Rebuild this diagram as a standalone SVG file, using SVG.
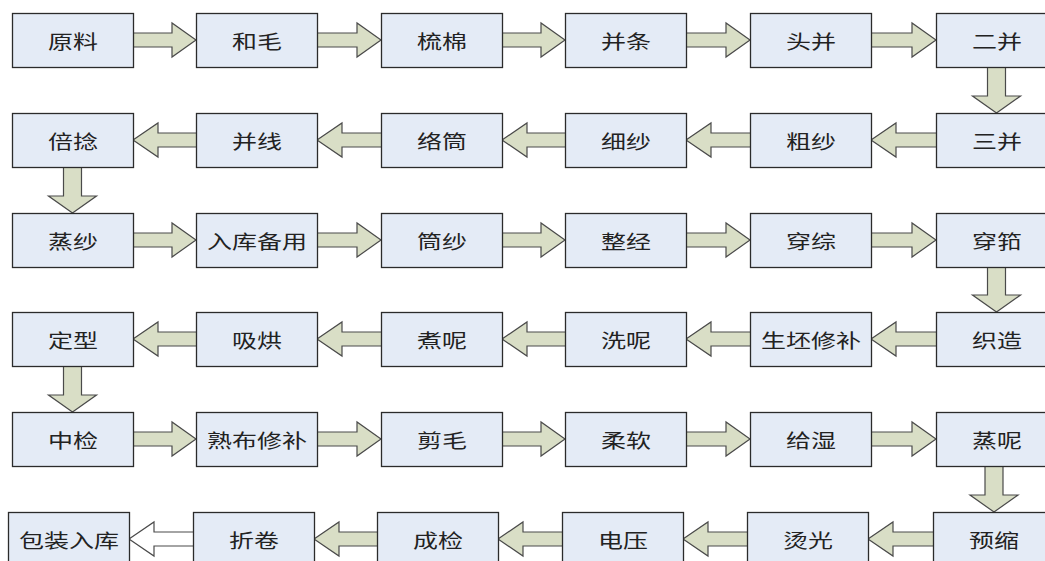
<svg xmlns="http://www.w3.org/2000/svg" xmlns:xlink="http://www.w3.org/1999/xlink" width="1045" height="561" viewBox="0 0 1045 561">
<style>
.box{fill:#e4ebf6;stroke:#2b2b2b;stroke-width:1.3}
.lbl{font-family:"Noto Sans CJK SC","Noto Sans CJK JP",sans-serif;font-size:19px;fill:#222;text-anchor:middle;dominant-baseline:central}
.arr{fill:#d9dec6;stroke:#4a4a4a;stroke-width:1.2;stroke-linejoin:miter}
.arr-w{fill:#ffffff;stroke:#4a4a4a;stroke-width:1.2}
</style>
<defs>
<path id="ar" d="M-68,-7 H-24 V-17 L0,0 L-24,17 V7 H-68 Z"/>
<path id="al" d="M0,0 L25,-17 V-7 H68 V7 H25 V17 Z"/>
<path id="ad" d="M-9,-52 V-17 H-24 L0,0 L24,-17 H9 V-52 Z"/>
</defs>
<rect width="1045" height="561" fill="#ffffff"/>
<g id="connectors">
<use href="#ar" class="arr" transform="translate(196,40)"/>
<use href="#ar" class="arr" transform="translate(381,40)"/>
<use href="#ar" class="arr" transform="translate(565,40)"/>
<use href="#ar" class="arr" transform="translate(750,40)"/>
<use href="#ar" class="arr" transform="translate(936,40)"/>
<use href="#ad" class="arr" transform="translate(996.5,113)"/>
<use href="#al" class="arr" transform="translate(133,140)"/>
<use href="#al" class="arr" transform="translate(317,140)"/>
<use href="#al" class="arr" transform="translate(502,140)"/>
<use href="#al" class="arr" transform="translate(686,140)"/>
<use href="#al" class="arr" transform="translate(871,140)"/>
<use href="#ad" class="arr" transform="translate(72.5,213)"/>
<use href="#ar" class="arr" transform="translate(196,240)"/>
<use href="#ar" class="arr" transform="translate(381,240)"/>
<use href="#ar" class="arr" transform="translate(565,240)"/>
<use href="#ar" class="arr" transform="translate(750,240)"/>
<use href="#ar" class="arr" transform="translate(936,240)"/>
<use href="#ad" class="arr" transform="translate(996.5,312)"/>
<use href="#al" class="arr" transform="translate(133,339)"/>
<use href="#al" class="arr" transform="translate(317,339)"/>
<use href="#al" class="arr" transform="translate(502,339)"/>
<use href="#al" class="arr" transform="translate(686,339)"/>
<use href="#al" class="arr" transform="translate(871,339)"/>
<use href="#ad" class="arr" transform="translate(72.5,412)"/>
<use href="#ar" class="arr" transform="translate(196,439)"/>
<use href="#ar" class="arr" transform="translate(381,439)"/>
<use href="#ar" class="arr" transform="translate(565,439)"/>
<use href="#ar" class="arr" transform="translate(750,439)"/>
<use href="#ar" class="arr" transform="translate(936,439)"/>
<use href="#ad" class="arr" transform="translate(994,512)"/>
<use href="#al" class="arr-w" transform="translate(129,539)"/>
<use href="#al" class="arr" transform="translate(314,539)"/>
<use href="#al" class="arr" transform="translate(498,539)"/>
<use href="#al" class="arr" transform="translate(683,539)"/>
<use href="#al" class="arr" transform="translate(868,539)"/>
</g>
<g id="n-yuanliao"><rect class="box" x="12.5" y="13.5" width="121" height="54"/><text class="lbl" x="73" y="40" textLength="50" lengthAdjust="spacingAndGlyphs">原料</text></g>
<g id="n-hemao"><rect class="box" x="196.5" y="13.5" width="121" height="54"/><text class="lbl" x="257" y="40" textLength="50" lengthAdjust="spacingAndGlyphs">和毛</text></g>
<g id="n-shumian"><rect class="box" x="381.5" y="13.5" width="121" height="54"/><text class="lbl" x="442" y="40" textLength="50" lengthAdjust="spacingAndGlyphs">梳棉</text></g>
<g id="n-bingtiao"><rect class="box" x="565.5" y="13.5" width="121" height="54"/><text class="lbl" x="626" y="40" textLength="50" lengthAdjust="spacingAndGlyphs">并条</text></g>
<g id="n-toubing"><rect class="box" x="750.5" y="13.5" width="121" height="54"/><text class="lbl" x="811" y="40" textLength="50" lengthAdjust="spacingAndGlyphs">头并</text></g>
<g id="n-erbing"><rect class="box" x="936.5" y="13.5" width="121" height="54"/><text class="lbl" x="997" y="40" textLength="50" lengthAdjust="spacingAndGlyphs">二并</text></g>
<g id="n-beinian"><rect class="box" x="12.5" y="113.5" width="121" height="54"/><text class="lbl" x="73" y="140" textLength="50" lengthAdjust="spacingAndGlyphs">倍捻</text></g>
<g id="n-bingxian"><rect class="box" x="196.5" y="113.5" width="121" height="54"/><text class="lbl" x="257" y="140" textLength="50" lengthAdjust="spacingAndGlyphs">并线</text></g>
<g id="n-luotong"><rect class="box" x="381.5" y="113.5" width="121" height="54"/><text class="lbl" x="442" y="140" textLength="50" lengthAdjust="spacingAndGlyphs">络筒</text></g>
<g id="n-xisha"><rect class="box" x="565.5" y="113.5" width="121" height="54"/><text class="lbl" x="626" y="140" textLength="50" lengthAdjust="spacingAndGlyphs">细纱</text></g>
<g id="n-cusha"><rect class="box" x="750.5" y="113.5" width="121" height="54"/><text class="lbl" x="811" y="140" textLength="50" lengthAdjust="spacingAndGlyphs">粗纱</text></g>
<g id="n-sanbing"><rect class="box" x="936.5" y="113.5" width="121" height="54"/><text class="lbl" x="997" y="140" textLength="50" lengthAdjust="spacingAndGlyphs">三并</text></g>
<g id="n-zhengsha"><rect class="box" x="12.5" y="213.5" width="121" height="54"/><text class="lbl" x="73" y="240" textLength="50" lengthAdjust="spacingAndGlyphs">蒸纱</text></g>
<g id="n-rukubeiyong"><rect class="box" x="196.5" y="213.5" width="121" height="54"/><text class="lbl" x="257" y="240" textLength="100" lengthAdjust="spacingAndGlyphs">入库备用</text></g>
<g id="n-tongsha"><rect class="box" x="381.5" y="213.5" width="121" height="54"/><text class="lbl" x="442" y="240" textLength="50" lengthAdjust="spacingAndGlyphs">筒纱</text></g>
<g id="n-zhengjing"><rect class="box" x="565.5" y="213.5" width="121" height="54"/><text class="lbl" x="626" y="240" textLength="50" lengthAdjust="spacingAndGlyphs">整经</text></g>
<g id="n-chuanzong"><rect class="box" x="750.5" y="213.5" width="121" height="54"/><text class="lbl" x="811" y="240" textLength="50" lengthAdjust="spacingAndGlyphs">穿综</text></g>
<g id="n-chuankou"><rect class="box" x="936.5" y="213.5" width="121" height="54"/><text class="lbl" x="997" y="240" textLength="50" lengthAdjust="spacingAndGlyphs">穿筘</text></g>
<g id="n-dingxing"><rect class="box" x="12.5" y="312.5" width="121" height="54"/><text class="lbl" x="73" y="339" textLength="50" lengthAdjust="spacingAndGlyphs">定型</text></g>
<g id="n-xihong"><rect class="box" x="196.5" y="312.5" width="121" height="54"/><text class="lbl" x="257" y="339" textLength="50" lengthAdjust="spacingAndGlyphs">吸烘</text></g>
<g id="n-zhuni"><rect class="box" x="381.5" y="312.5" width="121" height="54"/><text class="lbl" x="442" y="339" textLength="50" lengthAdjust="spacingAndGlyphs">煮呢</text></g>
<g id="n-xini"><rect class="box" x="565.5" y="312.5" width="121" height="54"/><text class="lbl" x="626" y="339" textLength="50" lengthAdjust="spacingAndGlyphs">洗呢</text></g>
<g id="n-shengpixiubu"><rect class="box" x="750.5" y="312.5" width="121" height="54"/><text class="lbl" x="811" y="339" textLength="100" lengthAdjust="spacingAndGlyphs">生坯修补</text></g>
<g id="n-zhizao"><rect class="box" x="936.5" y="312.5" width="121" height="54"/><text class="lbl" x="997" y="339" textLength="50" lengthAdjust="spacingAndGlyphs">织造</text></g>
<g id="n-zhongjian"><rect class="box" x="12.5" y="412.5" width="121" height="54"/><text class="lbl" x="73" y="439" textLength="50" lengthAdjust="spacingAndGlyphs">中检</text></g>
<g id="n-shubuxiubu"><rect class="box" x="196.5" y="412.5" width="121" height="54"/><text class="lbl" x="257" y="439" textLength="100" lengthAdjust="spacingAndGlyphs">熟布修补</text></g>
<g id="n-jianmao"><rect class="box" x="381.5" y="412.5" width="121" height="54"/><text class="lbl" x="442" y="439" textLength="50" lengthAdjust="spacingAndGlyphs">剪毛</text></g>
<g id="n-rouruan"><rect class="box" x="565.5" y="412.5" width="121" height="54"/><text class="lbl" x="626" y="439" textLength="50" lengthAdjust="spacingAndGlyphs">柔软</text></g>
<g id="n-geishi"><rect class="box" x="750.5" y="412.5" width="121" height="54"/><text class="lbl" x="811" y="439" textLength="50" lengthAdjust="spacingAndGlyphs">给湿</text></g>
<g id="n-zhengni"><rect class="box" x="936.5" y="412.5" width="121" height="54"/><text class="lbl" x="997" y="439" textLength="50" lengthAdjust="spacingAndGlyphs">蒸呢</text></g>
<g id="n-baozhuangruku"><rect class="box" x="8.5" y="512.5" width="121" height="54"/><text class="lbl" x="69" y="539" textLength="100" lengthAdjust="spacingAndGlyphs">包装入库</text></g>
<g id="n-zhejuan"><rect class="box" x="193.5" y="512.5" width="121" height="54"/><text class="lbl" x="254" y="539" textLength="50" lengthAdjust="spacingAndGlyphs">折卷</text></g>
<g id="n-chengjian"><rect class="box" x="377.5" y="512.5" width="121" height="54"/><text class="lbl" x="438" y="539" textLength="50" lengthAdjust="spacingAndGlyphs">成检</text></g>
<g id="n-dianya"><rect class="box" x="562.5" y="512.5" width="121" height="54"/><text class="lbl" x="623" y="539" textLength="50" lengthAdjust="spacingAndGlyphs">电压</text></g>
<g id="n-tangguang"><rect class="box" x="747.5" y="512.5" width="121" height="54"/><text class="lbl" x="808" y="539" textLength="50" lengthAdjust="spacingAndGlyphs">烫光</text></g>
<g id="n-yusuo"><rect class="box" x="933.5" y="512.5" width="121" height="54"/><text class="lbl" x="994" y="539" textLength="50" lengthAdjust="spacingAndGlyphs">预缩</text></g>
</svg>
